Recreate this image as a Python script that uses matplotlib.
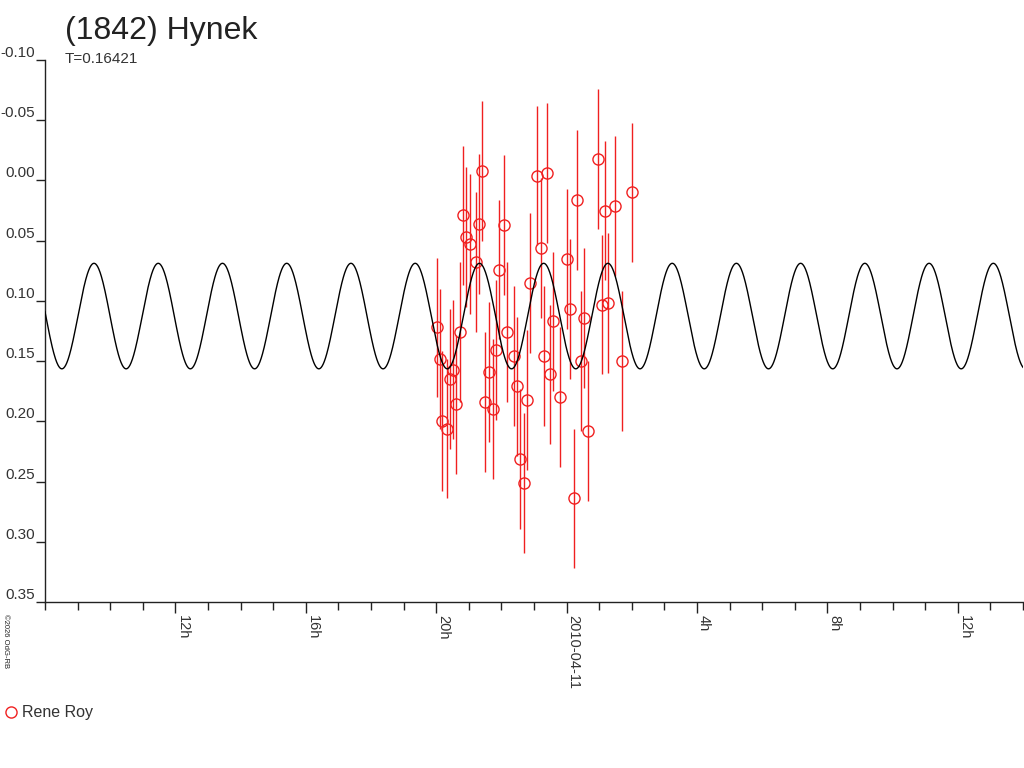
import matplotlib
matplotlib.use("Agg")
import matplotlib.pyplot as plt
import matplotlib.dates as mdates
import numpy as np
from datetime import datetime
from matplotlib.lines import Line2D

plt.rcParams['font.family'] = ['Liberation Sans', 'DejaVu Sans']

# ---------------- data ----------------
title_text = "(1842) Hynek"
period_text = "T=0.16421"
observer = "Rene Roy"
watermark = "\u00a92026 OdG-RB"

base_date = datetime(2010, 4, 10)

# observation times in hours since 2010-04-10 00:00 UT
obs_hours = [20.03, 20.11, 20.19, 20.32, 20.42, 20.52, 20.62, 20.72, 20.82, 20.91,
             21.04, 21.21, 21.31, 21.41, 21.51, 21.62, 21.73, 21.83, 21.92, 22.07,
             22.17, 22.38, 22.48, 22.58, 22.69, 22.79, 22.88, 23.09, 23.20, 23.30,
             23.40, 23.48, 23.59, 23.81, 24.01, 24.10, 24.23, 24.32, 24.43, 24.53,
             24.65, 24.96, 25.08, 25.18, 25.28, 25.48, 25.70, 26.00]
# relative magnitudes
obs_mag = [0.122, 0.148, 0.200, 0.206, 0.165, 0.157, 0.186, 0.126, 0.029, 0.047,
           0.053, 0.068, 0.036, -0.008, 0.184, 0.159, 0.190, 0.141, 0.074, 0.037,
           0.126, 0.146, 0.171, 0.231, 0.251, 0.182, 0.085, -0.004, 0.056, 0.146,
           -0.006, 0.161, 0.117, 0.180, 0.065, 0.107, 0.264, 0.016, 0.150, 0.114,
           0.208, -0.018, 0.103, 0.025, 0.102, 0.021, 0.150, 0.010]
obs_err = [0.058, 0.058, 0.058, 0.058, 0.058, 0.058, 0.058, 0.058, 0.058, 0.058,
           0.058, 0.058, 0.058, 0.058, 0.058, 0.058, 0.058, 0.058, 0.058, 0.058,
           0.058, 0.058, 0.058, 0.058, 0.058, 0.058, 0.058, 0.058, 0.058, 0.058,
           0.058, 0.058, 0.058, 0.058, 0.058, 0.058, 0.058, 0.058, 0.058, 0.058,
           0.058, 0.058, 0.058, 0.058, 0.058, 0.058, 0.058, 0.058]

# model lightcurve parameters
period_days = 0.16421
curve_mean = 0.1126
curve_amp = 0.0438
curve_epoch_hours = 9.503   # time of a brightness maximum

x_range_hours = [8.0, 38.0]
major_tick_hours = [12, 16, 20, 24, 28, 32, 36]
major_tick_labels = ["12h", "16h", "20h", "2010-04-11", "4h", "8h", "12h"]
y_ticks = [-0.10, -0.05, 0.00, 0.05, 0.10, 0.15, 0.20, 0.25, 0.30, 0.35]
y_tick_labels = ["-0.10", "-0.05", "0.00", "0.05", "0.10", "0.15", "0.20", "0.25", "0.30", "0.35"]

# ---------------- plot ----------------
red = "#f02020"
d0 = mdates.date2num(base_date)

fig = plt.figure(figsize=(10.24, 7.68), dpi=100)
ax = fig.add_axes([45 / 1024, 1 - 602 / 768, 978 / 1024, 542 / 768])

x_obs = d0 + np.array(obs_hours) / 24.0
ax.errorbar(x_obs, obs_mag, yerr=obs_err, fmt='o', mfc='none', mec=red,
            ecolor=red, elinewidth=1.0, capsize=0, ms=8, mew=1.0, zorder=2)

t = np.linspace(x_range_hours[0], x_range_hours[1], 3000)
half_period_h = period_days * 24 / 2
model = curve_mean - curve_amp * np.cos(2 * np.pi * (t - curve_epoch_hours) / half_period_h)
ax.plot(d0 + t / 24.0, model, color='black', lw=1.0, zorder=3)

ax.set_xlim(d0 + x_range_hours[0] / 24, d0 + x_range_hours[1] / 24)
ax.set_ylim(0.35, -0.10)

for s in ['top', 'right']:
    ax.spines[s].set_visible(False)
for s in ['left', 'bottom']:
    ax.spines[s].set_color('#222222')
    ax.spines[s].set_linewidth(1.0)

ax.set_yticks(y_ticks, y_tick_labels)
ax.tick_params(axis='y', length=6.5, width=1, pad=0.5, labelsize=11,
               colors='#222222', labelcolor='#333333', direction='out')
for lbl in ax.get_yticklabels():
    lbl.set_verticalalignment('bottom')

ax.set_xticks([d0 + h / 24 for h in major_tick_hours], major_tick_labels)
minor_hours = np.arange(int(x_range_hours[0]), int(x_range_hours[1]) + 1)
ax.set_xticks(d0 + minor_hours / 24, minor=True)
ax.tick_params(axis='x', which='major', length=8, width=1, pad=1.5,
               labelsize=10.5, labelrotation=270, colors='#222222', labelcolor='#333333')
ax.tick_params(axis='x', which='minor', length=5.5, width=1, colors='#222222')
for lbl in ax.get_xticklabels():
    lbl.set_horizontalalignment('left')
    lbl.set_verticalalignment('top')

fig.text(65 / 1024, 1 - 38.5 / 768, title_text, fontsize=23, va='baseline',
         ha='left', color='#222222')
fig.text(65 / 1024, 1 - 63 / 768, period_text, fontsize=11, va='baseline',
         ha='left', color='#333333')

fig.text(5 / 1024, 1 - 614 / 768, watermark, fontsize=5.5, rotation=270,
         va='top', ha='center', color='#222222')

handle = Line2D([0], [0], marker='o', ls='none', mfc='none', mec=red, ms=8, mew=1.0)
fig.legend(handles=[handle], labels=[observer], loc='center left',
           bbox_to_anchor=(4 / 1024, 1 - 713 / 768), frameon=False, fontsize=11.5,
           handletextpad=0.2, borderaxespad=0, borderpad=0, handlelength=0.9,
           labelcolor='#333333')

fig.savefig("out.png", dpi=100)
